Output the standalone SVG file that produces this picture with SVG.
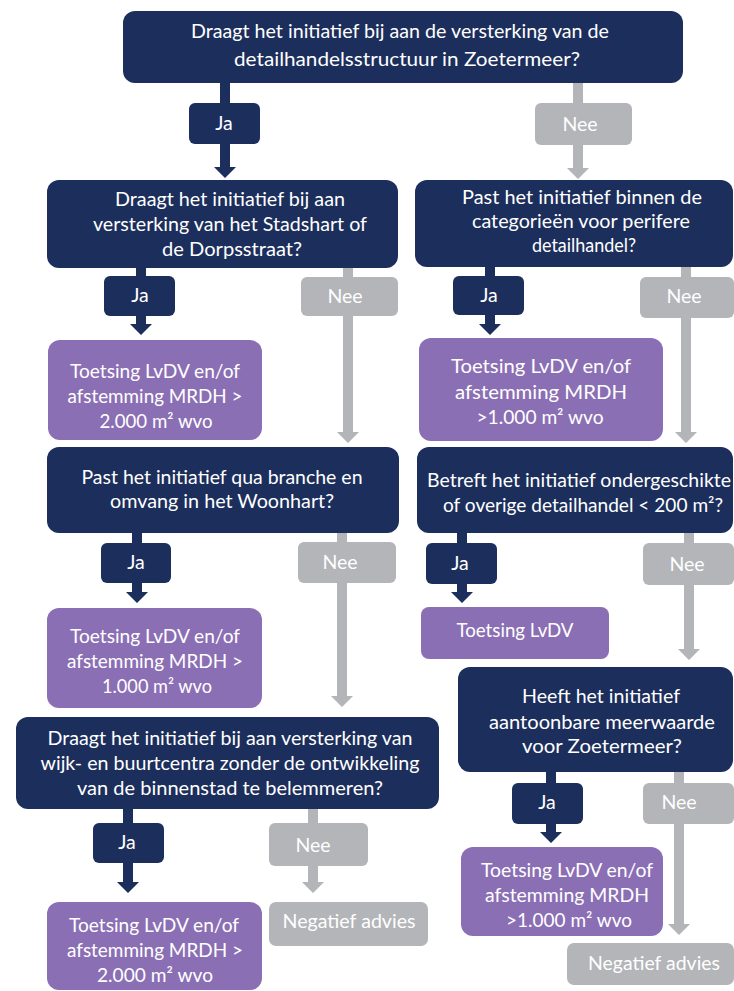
<svg xmlns="http://www.w3.org/2000/svg" width="734" height="991" viewBox="0 0 734 991">
<style>
.q{fill:#1c2e5c}
.p{fill:#8b6fb4}
.g{fill:#b3b5b9}
.an{fill:#1c2e5c}
.ag{fill:#b3b5b9}
text{font-family:"Lato","Open Sans",sans-serif;font-size:19.5px;fill:#ffffff;text-anchor:middle}
</style>
<rect width="734" height="991" fill="#ffffff"/>
<g id="connectors">
<path class="an" d="M220 83 H230 V167 H236 L225 178 L214 167 H220 Z"/>
<path class="ag" d="M573 83 H583 V168 H589 L578 179 L567 168 H573 Z"/>
<path class="an" d="M136 268 H146 V324 H152 L141 335 L130 324 H136 Z"/>
<path class="ag" d="M343 268 H353 V432 H359 L348 443 L337 432 H343 Z"/>
<path class="an" d="M485 267 H495 V324 H501 L490 335 L479 324 H485 Z"/>
<path class="ag" d="M681 267 H691 V432 H697 L686 443 L675 432 H681 Z"/>
<path class="an" d="M132 533 H142 V592 H148 L137 603 L126 592 H132 Z"/>
<path class="ag" d="M337 533 H347 V696 H353 L342 707 L331 696 H337 Z"/>
<path class="an" d="M457 533 H467 V592 H473 L462 603 L451 592 H457 Z"/>
<path class="ag" d="M684 533 H694 V649 H700 L689 660 L678 649 H684 Z"/>
<path class="an" d="M123 809 H133 V882 H139 L128 893 L117 882 H123 Z"/>
<path class="ag" d="M308 809 H318 V882 H324 L313 893 L302 882 H308 Z"/>
<path class="an" d="M546 772 H556 V832 H562 L551 843 L540 832 H546 Z"/>
<path class="ag" d="M674 772 H684 V924 H690 L679 935 L668 924 H674 Z"/>
</g>
<g id="q1">
<rect class="q" x="123" y="11" width="560" height="72" rx="12"/>
<text x="400" y="38" textLength="418" lengthAdjust="spacingAndGlyphs">Draagt het initiatief bij aan de versterking van de</text>
<text x="407" y="66" textLength="346" lengthAdjust="spacingAndGlyphs">detailhandelsstructuur in Zoetermeer?</text>
</g>
<g id="q1-ja"><rect class="q" x="189" y="103" width="71" height="41" rx="6"/><text x="224" y="130">Ja</text></g>
<g id="q1-nee"><rect class="g" x="535" y="103" width="97" height="42" rx="6"/><text x="580" y="131">Nee</text></g>

<g id="q2">
<rect class="q" x="47" y="180" width="351" height="88" rx="12"/>
<text x="230" y="206" textLength="230" lengthAdjust="spacingAndGlyphs">Draagt het initiatief bij aan</text>
<text x="230" y="231" textLength="274" lengthAdjust="spacingAndGlyphs">versterking van het Stadshart of</text>
<text x="232" y="256" textLength="140" lengthAdjust="spacingAndGlyphs">de Dorpsstraat?</text>
</g>
<g id="q2-ja"><rect class="q" x="104" y="276" width="71" height="40" rx="6"/><text x="140" y="302">Ja</text></g>
<g id="q2-nee"><rect class="g" x="301" y="277" width="97" height="39" rx="6"/><text x="345" y="303">Nee</text></g>
<g id="p1">
<rect class="p" x="48" y="340" width="214" height="100" rx="12"/>
<text x="155" y="378" textLength="170" lengthAdjust="spacingAndGlyphs">Toetsing LvDV en/of</text>
<text x="155" y="403" textLength="175" lengthAdjust="spacingAndGlyphs">afstemming MRDH &gt;</text>
<text x="156" y="428" textLength="113" lengthAdjust="spacingAndGlyphs">2.000 m² wvo</text>
</g>

<g id="q3">
<rect class="q" x="415" y="180" width="318" height="87" rx="12"/>
<text x="582" y="204" textLength="240" lengthAdjust="spacingAndGlyphs">Past het initiatief binnen de</text>
<text x="581" y="228" textLength="218" lengthAdjust="spacingAndGlyphs">categorieën voor perifere</text>
<text x="584" y="252" textLength="104" lengthAdjust="spacingAndGlyphs">detailhandel?</text>
</g>
<g id="q3-ja"><rect class="q" x="453" y="276" width="71" height="39" rx="6"/><text x="489" y="302">Ja</text></g>
<g id="q3-nee"><rect class="g" x="640" y="277" width="94" height="41" rx="6"/><text x="684" y="303">Nee</text></g>
<g id="p2">
<rect class="p" x="419" y="338" width="244" height="103" rx="12"/>
<text x="541" y="373" textLength="180" lengthAdjust="spacingAndGlyphs">Toetsing LvDV en/of</text>
<text x="541" y="399" textLength="172" lengthAdjust="spacingAndGlyphs">afstemming MRDH</text>
<text x="540" y="424" textLength="127" lengthAdjust="spacingAndGlyphs">&gt;1.000 m² wvo</text>
</g>

<g id="q4">
<rect class="q" x="47" y="447" width="352" height="86" rx="12"/>
<text x="222" y="484" textLength="281" lengthAdjust="spacingAndGlyphs">Past het initiatief qua branche en</text>
<text x="222" y="508" textLength="224" lengthAdjust="spacingAndGlyphs">omvang in het Woonhart?</text>
</g>
<g id="q4-ja"><rect class="q" x="101" y="543" width="70" height="40" rx="6"/><text x="136" y="569">Ja</text></g>
<g id="q4-nee"><rect class="g" x="298" y="542" width="98" height="41" rx="6"/><text x="340" y="569">Nee</text></g>
<g id="p3">
<rect class="p" x="47" y="608" width="215" height="100" rx="12"/>
<text x="155" y="643" textLength="170" lengthAdjust="spacingAndGlyphs">Toetsing LvDV en/of</text>
<text x="155" y="668" textLength="176" lengthAdjust="spacingAndGlyphs">afstemming MRDH &gt;</text>
<text x="157" y="693" textLength="110" lengthAdjust="spacingAndGlyphs">1.000 m² wvo</text>
</g>

<g id="q5">
<rect class="q" x="417" y="447" width="316" height="86" rx="12"/>
<text x="579" y="487" textLength="304" lengthAdjust="spacingAndGlyphs">Betreft het initiatief ondergeschikte</text>
<text x="583" y="512" textLength="280" lengthAdjust="spacingAndGlyphs">of overige detailhandel &lt; 200 m²?</text>
</g>
<g id="q5-ja"><rect class="q" x="426" y="543" width="71" height="41" rx="6"/><text x="460" y="570">Ja</text></g>
<g id="q5-nee"><rect class="g" x="643" y="543" width="91" height="42" rx="6"/><text x="687" y="571">Nee</text></g>
<g id="p4">
<rect class="p" x="421" y="607" width="188" height="52" rx="8"/>
<text x="515" y="637" textLength="117" lengthAdjust="spacingAndGlyphs">Toetsing LvDV</text>
</g>

<g id="q6">
<rect class="q" x="458" y="667" width="275" height="105" rx="12"/>
<text x="601" y="703" textLength="158" lengthAdjust="spacingAndGlyphs">Heeft het initiatief</text>
<text x="602" y="729" textLength="226" lengthAdjust="spacingAndGlyphs">aantoonbare meerwaarde</text>
<text x="602" y="753" textLength="160" lengthAdjust="spacingAndGlyphs">voor Zoetermeer?</text>
</g>
<g id="q6-ja"><rect class="q" x="512" y="783" width="71" height="41" rx="6"/><text x="547" y="809">Ja</text></g>
<g id="q6-nee"><rect class="g" x="643" y="783" width="91" height="41" rx="6"/><text x="679" y="809">Nee</text></g>
<g id="p5">
<rect class="p" x="461" y="847" width="202" height="89" rx="12"/>
<text x="567" y="877" textLength="172" lengthAdjust="spacingAndGlyphs">Toetsing LvDV en/of</text>
<text x="567" y="902" textLength="164" lengthAdjust="spacingAndGlyphs">afstemming MRDH</text>
<text x="569" y="927" textLength="126" lengthAdjust="spacingAndGlyphs">&gt;1.000 m² wvo</text>
</g>
<g id="n2">
<rect class="g" x="567" y="943" width="167" height="42" rx="7"/>
<text x="654" y="970" textLength="132" lengthAdjust="spacingAndGlyphs">Negatief advies</text>
</g>

<g id="q7">
<rect class="q" x="16" y="717" width="423" height="92" rx="12"/>
<text x="230" y="745" textLength="365" lengthAdjust="spacingAndGlyphs">Draagt het initiatief bij aan versterking van</text>
<text x="230" y="770" textLength="379" lengthAdjust="spacingAndGlyphs">wijk- en buurtcentra zonder de ontwikkeling</text>
<text x="230" y="795" textLength="306" lengthAdjust="spacingAndGlyphs">van de binnenstad te belemmeren?</text>
</g>
<g id="q7-ja"><rect class="q" x="93" y="823" width="71" height="40" rx="6"/><text x="127" y="849">Ja</text></g>
<g id="q7-nee"><rect class="g" x="269" y="823" width="99" height="43" rx="6"/><text x="313" y="852">Nee</text></g>
<g id="p6">
<rect class="p" x="47" y="902" width="215" height="88" rx="12"/>
<text x="154" y="932" textLength="170" lengthAdjust="spacingAndGlyphs">Toetsing LvDV en/of</text>
<text x="155" y="957" textLength="176" lengthAdjust="spacingAndGlyphs">afstemming MRDH &gt;</text>
<text x="155" y="982" textLength="116" lengthAdjust="spacingAndGlyphs">2.000 m² wvo</text>
</g>
<g id="n1">
<rect class="g" x="269" y="902" width="159" height="44" rx="7"/>
<text x="349" y="928" textLength="133" lengthAdjust="spacingAndGlyphs">Negatief advies</text>
</g>
</svg>
